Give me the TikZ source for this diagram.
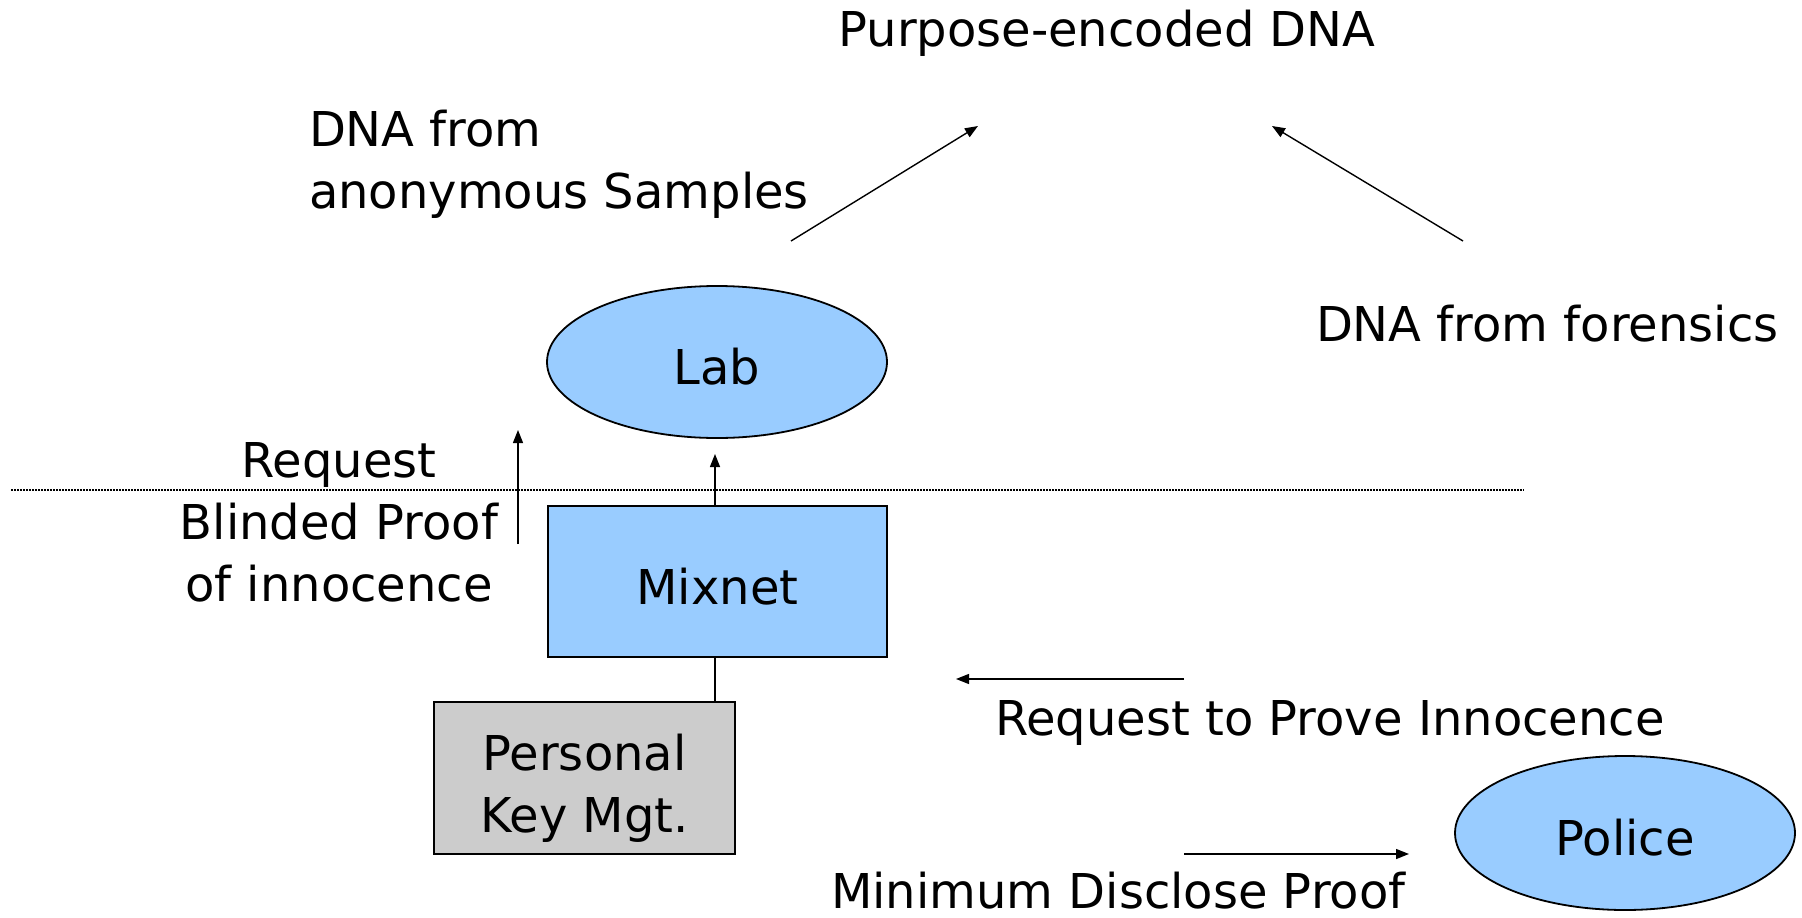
\documentclass[tikz,border=0pt]{standalone}
\usepackage{fontspec}
\setmainfont{DejaVu Sans}
\usetikzlibrary{shapes.geometric,arrows.meta}
\definecolor{boxblue}{HTML}{99CCFF}
\definecolor{boxgrey}{HTML}{CCCCCC}
\tikzset{
  every node/.style={font=\fontsize{48}{62}\selectfont, inner sep=0pt, outer sep=0pt},
  oval/.style={ellipse, draw=black, line width=1.8pt, fill=boxblue, minimum width=340pt, minimum height=152pt, text height=45pt, text depth=0pt},
  block/.style={rectangle, draw=black, line width=1.8pt, minimum width=339pt, minimum height=151pt},
  label/.style={anchor=base, align=center},
  flow/.style={line width=1.4pt, -{Triangle[length=13pt,width=10pt]}},
  plain/.style={line width=1.4pt},
  divider/.style={line width=1.8pt, dash pattern=on 2pt off 1pt}
}
\begin{document}
\begin{tikzpicture}[x=1pt,y=-1pt]
  \useasboundingbox (0,0) rectangle (1802,918);

  % main components
  \node[oval] (lab) at (717,362) {Lab};
  \node[block, fill=boxblue, text height=45pt, text depth=0pt] (mix) at (717.5,581.5) {Mixnet};
  \node[block, fill=boxgrey, minimum width=301pt, minimum height=152pt, align=center, text height=108pt, text depth=0pt] (key) at (584.5,778) {Personal\\Key Mgt.};
  \node[oval, minimum height=154pt] (police) at (1625,833) {Police};

  % boundary between user side and lab side
  \coordinate (divL) at (11,490);
  \coordinate (divR) at (1524,490);
  \draw[divider] (divL) -- (divR);

  % labels (multi-line labels are placed by their last baseline)
  \node[label] (pdna) at (1107,46) {Purpose-encoded DNA};
  \node[label, anchor=base west, align=left] (anon) at (309,208) {DNA from\\anonymous Samples};
  \node[label, anchor=base west] (foren) at (1316,341) {DNA from forensics};
  \node[label] (req) at (339,601) {Request\\Blinded Proof\\of innocence};
  \node[label, anchor=base west] (prove) at (995,735) {Request to Prove Innocence};
  \node[label, anchor=base west] (mindis) at (831,908) {Minimum Disclose Proof};

  % arrow end points
  \coordinate (a1s) at (791,241);  \coordinate (a1e) at (978,126);
  \coordinate (a2s) at (1463,241); \coordinate (a2e) at (1272,126);
  \coordinate (a3e) at (715,454);
  \coordinate (a4s) at (518,544);  \coordinate (a4e) at (518,430);
  \coordinate (a5s) at (1184,679); \coordinate (a5e) at (956,679);
  \coordinate (a6s) at (1184,854); \coordinate (a6e) at (1409,854);

  % connectors
  \draw[flow] (a1s) -- (a1e);
  \draw[flow] (a2s) -- (a2e);
  \draw[flow] (mix.north -| a3e) -- (a3e);
  \draw[flow] (a4s) -- (a4e);
  \draw[flow] (a5s) -- (a5e);
  \draw[flow] (a6s) -- (a6e);
  \draw[plain] (mix.south -| a3e) -- (key.north -| a3e);
\end{tikzpicture}
\end{document}
